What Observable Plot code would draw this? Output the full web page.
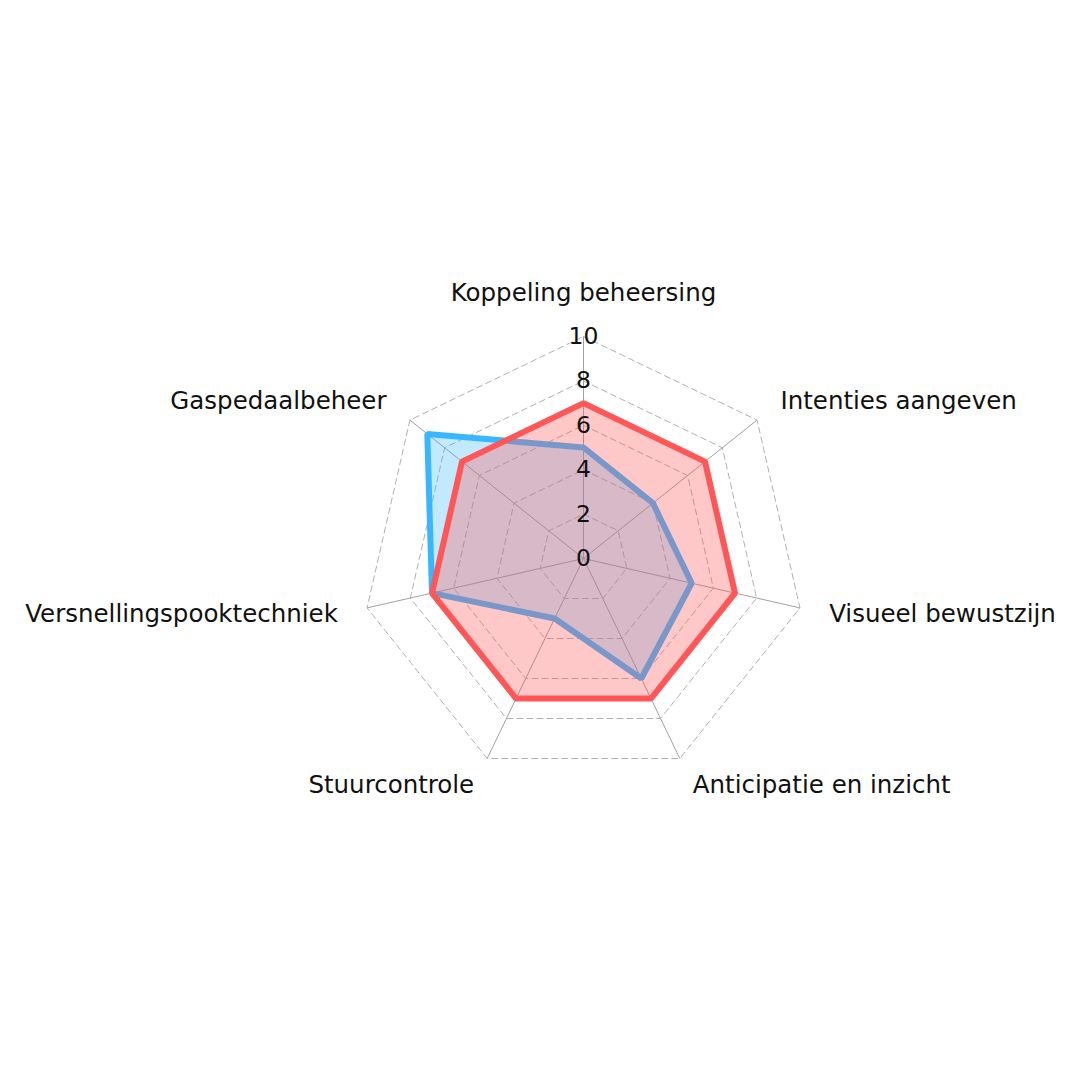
<!DOCTYPE html>
<html>
<head>
<meta charset="utf-8">
<script src="https://cdn.jsdelivr.net/npm/d3@7"></script>
<script src="https://cdn.jsdelivr.net/npm/@observablehq/plot@0.6"></script>
<style>
  html, body { margin: 0; padding: 0; background: #fff; }
  #chart svg { display: block; }
</style>
</head>
<body>
<div id="chart"></div>
<script>
const categories = ["Koppeling beheersing", "Intenties aangeven", "Visueel bewustzijn", "Anticipatie en inzicht", "Stuurcontrole", "Versnellingspooktechniek", "Gaspedaalbeheer"];
const seriesRed = [7, 7, 7, 7, 7, 7, 7];
const seriesBlue = [5, 4, 5, 6, 3, 7, 9];
const tickValues = [0, 2, 4, 6, 8, 10];
const maxValue = 10;

const n = categories.length;
const angle = k => 2 * Math.PI * k / n;
const pt = (k, r) => ({x: r * Math.sin(angle(k)), y: r * Math.cos(angle(k))});

const rings = tickValues.filter(t => t > 0).flatMap(t => categories.map((c, k) => ({...pt(k, t), ring: t})));
const spokes = categories.map((c, k) => ({x1: 0, y1: 0, x2: pt(k, maxValue).x, y2: pt(k, maxValue).y}));
const redPts = seriesRed.map((v, k) => pt(k, v));
const bluePts = seriesBlue.map((v, k) => pt(k, v));
const labelR = 11.35;
const labels = categories.map((c, k) => ({...pt(k, labelR), name: c, k}));
const tickLabels = tickValues.map(t => ({x: 0, y: t, label: String(t)}));

const unit = 22.2, cx = 583, cy = 558, W = 1080, H = 1080;
const font = "'DejaVu Sans', 'Open Sans', sans-serif";

const chart = Plot.plot({
  width: W, height: H, margin: 0,
  style: {fontFamily: font, background: "#fff"},
  x: {domain: [-cx / unit, (W - cx) / unit], range: [0, W], axis: null},
  y: {domain: [-(H - cy) / unit, cy / unit], range: [H, 0], axis: null},
  marks: [
    Plot.link(spokes, {x1: "x1", y1: "y1", x2: "x2", y2: "y2", stroke: "#a0a0a0", strokeWidth: 1}),
    Plot.line(rings, {x: "x", y: "y", z: "ring", curve: "linear-closed", stroke: "#b0b0b0", strokeWidth: 1, strokeDasharray: "6,4"}),
    Plot.line(bluePts, {x: "x", y: "y", curve: "linear-closed", fill: "#38b6ff", fillOpacity: 0.3, stroke: "#38b6ff", strokeWidth: 6, strokeLinejoin: "miter"}),
    Plot.line(redPts, {x: "x", y: "y", curve: "linear-closed", fill: "#ff5757", fillOpacity: 0.33, stroke: "none"}),
    Plot.line(redPts, {x: "x", y: "y", curve: "linear-closed", stroke: "#ff5757", strokeWidth: 6, strokeLinejoin: "miter"}),
    Plot.text(tickLabels, {x: "x", y: "y", text: "label", fontSize: 23.5, fill: "#111"}),
    Plot.text(labels.filter(d => d.k === 0), {x: "x", y: "y", text: "name", fontSize: 24.5, fill: "#111", textAnchor: "middle", dy: -13}),
    Plot.text(labels.filter(d => d.k >= 1 && d.k <= 3), {x: "x", y: "y", text: "name", fontSize: 24.5, fill: "#111", textAnchor: "start"}),
    Plot.text(labels.filter(d => d.k >= 4), {x: "x", y: "y", text: "name", fontSize: 24.5, fill: "#111", textAnchor: "end"})
  ]
});
document.getElementById("chart").appendChild(chart);
</script>
</body>
</html>
